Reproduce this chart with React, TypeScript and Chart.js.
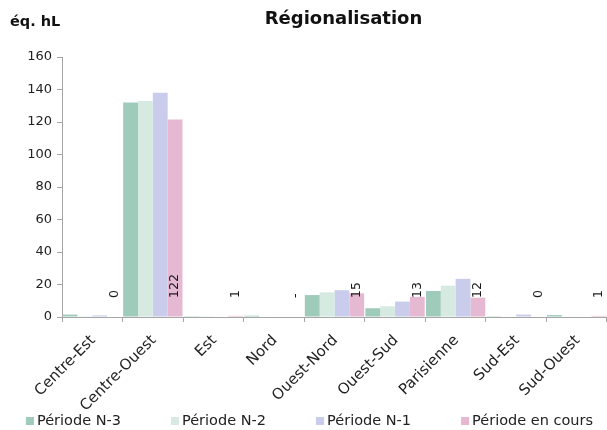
import React, { useEffect, useRef } from "react";
import { Chart, registerables } from "chart.js";

Chart.register(...registerables);

const categories = [
  "Centre-Est",
  "Centre-Ouest",
  "Est",
  "Nord",
  "Ouest-Nord",
  "Ouest-Sud",
  "Parisienne",
  "Sud-Est",
  "Sud-Ouest",
];

const seriesNames = ["Période N-3", "Période N-2", "Période N-1", "Période en cours"];

const periodeN3 = [1.5, 132, 0.5, 0.8, 13.5, 5.4, 16, 0.5, 1.2];
const periodeN2 = [0.5, 133, 0.5, 0, 15.2, 6.6, 19.3, 0, 0];
const periodeN1 = [1, 138, 0, 0, 16.5, 9.5, 23.5, 1.5, 0];
const periodeEnCours = [0, 121.6, 0.7, 0, 14.6, 12.4, 11.9, 0, 0.7];

const enCoursLabels = ["0", "122", "1", "-", "15", "13", "12", "0", "1"];

const yTicks = [0, 20, 40, 60, 80, 100, 120, 140, 160];

const colors = ["#9FCBBA", "#D7EAE2", "#C9CCEA", "#E6B9D2"];

const FONT = "'DejaVu Sans', sans-serif";

export default function App() {
  const canvasRef = useRef<HTMLCanvasElement | null>(null);

  useEffect(() => {
    document.body.style.margin = "0";
    const canvas = canvasRef.current;
    if (!canvas) return;

    const overlayPlugin = {
      id: "overlay",
      afterDatasetsDraw(chart: any) {
        const ctx = chart.ctx;
        const yScale = chart.scales.y;
        const meta = chart.getDatasetMeta(3);
        ctx.save();
        ctx.fillStyle = "#1a1a1a";
        ctx.font = `12.5px ${FONT}`;
        ctx.textAlign = "left";
        ctx.textBaseline = "middle";
        const base = yScale.getPixelForValue(0);
        meta.data.forEach((bar: any, i: number) => {
          ctx.save();
          ctx.translate(bar.x, base - 19);
          ctx.rotate(-Math.PI / 2);
          ctx.fillText(enCoursLabels[i], 0, 0);
          ctx.restore();
        });
        ctx.restore();
      },
      afterDraw(chart: any) {
        const ctx = chart.ctx;
        const area = chart.chartArea;
        const xScale = chart.scales.x;
        const base = chart.scales.y.getPixelForValue(0);
        ctx.save();

        // category labels (rotated 45°)
        ctx.fillStyle = "#222";
        ctx.font = `15px ${FONT}`;
        ctx.textAlign = "right";
        ctx.textBaseline = "middle";
        categories.forEach((c, i) => {
          const x = xScale.getPixelForValue(i);
          ctx.save();
          ctx.translate(x + 1, base + 21);
          ctx.rotate(-Math.PI / 4);
          ctx.fillText(c, 0, 0);
          ctx.restore();
        });

        // title
        ctx.fillStyle = "#111";
        ctx.textBaseline = "middle";
        ctx.textAlign = "center";
        ctx.font = `bold 18px ${FONT}`;
        ctx.fillText("Régionalisation", (area.left + area.right) / 2 + 9, 19);
        ctx.textAlign = "left";
        ctx.font = `bold 14.5px ${FONT}`;
        ctx.fillText("éq. hL", 10, 22);

        // legend
        ctx.font = `14.5px ${FONT}`;
        const box = 8;
        const gapBoxText = 3;
        const gap = 50;
        const widths = seriesNames.map((n) => box + gapBoxText + ctx.measureText(n).width);
        const total = widths.reduce((a, b) => a + b, 0) + gap * (widths.length - 1);
        let x = (chart.width - total) / 2 + 6;
        const yc = 421;
        seriesNames.forEach((n, i) => {
          ctx.fillStyle = colors[i];
          ctx.fillRect(x, yc - box / 2, box, box);
          ctx.fillStyle = "#222";
          ctx.textBaseline = "middle";
          ctx.fillText(n, x + box + gapBoxText, yc);
          x += widths[i] + gap;
        });
        ctx.restore();
      },
    };

    const seriesValues = [periodeN3, periodeN2, periodeN1, periodeEnCours];

    const chart = new Chart(canvas, {
      type: "bar",
      data: {
        labels: categories,
        datasets: seriesNames.map((name, i) => ({
          label: name,
          data: seriesValues[i],
          backgroundColor: colors[i],
          borderWidth: 0,
          categoryPercentage: 0.98,
          barPercentage: 1,
        })),
      },
      options: {
        animation: false,
        responsive: false,
        maintainAspectRatio: false,
        layout: { padding: { top: 57, left: 0, right: 0, bottom: 33 } },
        plugins: {
          legend: { display: false },
          title: { display: false },
          tooltip: { enabled: false },
        },
        scales: {
          x: {
            grid: {
              display: true,
              drawOnChartArea: false,
              offset: true,
              color: "#a6a6a6",
              tickLength: 5,
            },
            border: { color: "#a6a6a6" },
            ticks: { display: false },
            afterFit(scale: any) {
              scale.height = 80;
            },
          },
          y: {
            min: 0,
            max: 160,
            afterBuildTicks(scale: any) {
              scale.ticks = yTicks.map((v) => ({ value: v }));
            },
            grid: {
              display: true,
              drawOnChartArea: false,
              color: "#a6a6a6",
              tickLength: 5,
            },
            border: { color: "#a6a6a6" },
            ticks: {
              color: "#222",
              font: { family: FONT, size: 13 },
              padding: 5,
            },
            afterFit(scale: any) {
              scale.width = 62;
            },
          },
        },
      },
      plugins: [overlayPlugin],
    });

    return () => {
      chart.destroy();
    };
  }, []);

  return (
    <div style={{ width: 607, height: 430 }}>
      <canvas ref={canvasRef} width={607} height={430} style={{ width: 607, height: 430 }} />
    </div>
  );
}
